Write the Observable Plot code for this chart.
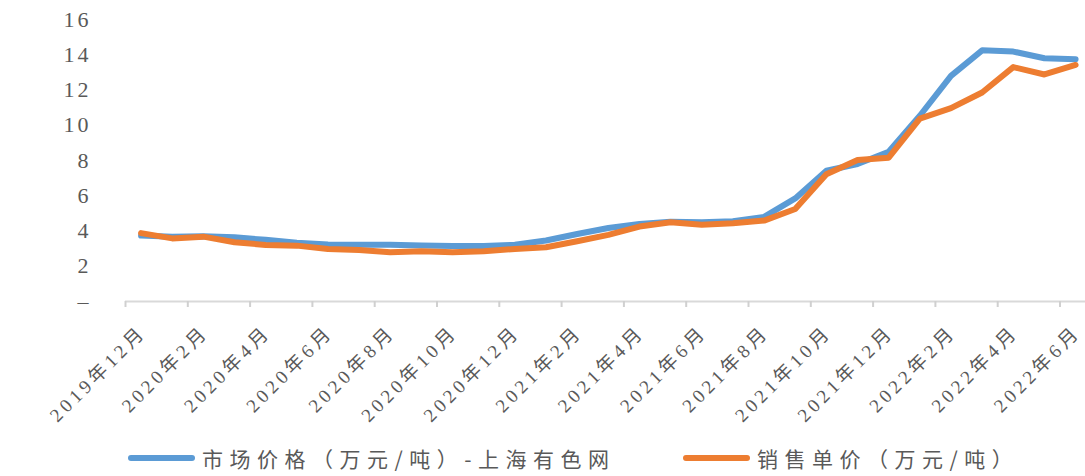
<!DOCTYPE html>
<html>
<head>
<meta charset="utf-8">
<script src="https://cdn.jsdelivr.net/npm/d3@7"></script>
<script src="https://cdn.jsdelivr.net/npm/@observablehq/plot@0.6"></script>
<style>
  html, body { margin: 0; padding: 0; background: #fff; }
  body { width: 1085px; height: 476px; overflow: hidden; }
  #chart svg { display: block; overflow: hidden; }
  #legend { position: relative; height: 36px; }
  #legend .item { position: absolute; top: 0; height: 36px; display: flex; align-items: center;
    font-family: "Noto Sans CJK SC", sans-serif; font-size: 21px; letter-spacing: 6.5px; color: #595959; white-space: nowrap; }
  #legend .sw { display: inline-block; width: 67px; height: 6px; border-radius: 3px; margin-right: 7px; }
</style>
</head>
<body>
<div id="chart"></div>
<div id="legend"></div>
<script>
const months = [
  "2019年12月","2020年1月","2020年2月","2020年3月","2020年4月","2020年5月","2020年6月",
  "2020年7月","2020年8月","2020年9月","2020年10月","2020年11月","2020年12月",
  "2021年1月","2021年2月","2021年3月","2021年4月","2021年5月","2021年6月",
  "2021年7月","2021年8月","2021年9月","2021年10月","2021年11月","2021年12月",
  "2022年1月","2022年2月","2022年3月","2022年4月","2022年5月","2022年6月"
];
const marketPrice = [3.74, 3.68, 3.70, 3.64, 3.50, 3.33, 3.23, 3.22, 3.22, 3.18, 3.15, 3.15, 3.22,
  3.46, 3.83, 4.17, 4.40, 4.53, 4.49, 4.55, 4.80, 5.85, 7.42, 7.80, 8.50,
  10.54, 12.80, 14.25, 14.18, 13.80, 13.75];
const salesPrice = [3.88, 3.58, 3.68, 3.36, 3.21, 3.17, 2.98, 2.92, 2.79, 2.85, 2.79, 2.85, 2.98,
  3.08, 3.42, 3.78, 4.25, 4.50, 4.36, 4.44, 4.59, 5.25, 7.22, 8.03, 8.16,
  10.38, 10.97, 11.86, 13.30, 12.88, 13.42];
const seriesNames = ["市场价格（万元/吨）-上海有色网", "销售单价（万元/吨）"];
const seriesColors = ["#5B9BD5", "#ED7D31"];
const yTicks = [0, 2, 4, 6, 8, 10, 12, 14, 16];
const labelEvery = 2;

const rows = months.map((m, i) => ({i, month: m, market: marketPrice[i], sales: salesPrice[i]}));
const labelIdx = months.map((m, i) => i).filter(i => i % labelEvery === 0);
const boundaryIdx = labelIdx.map(i => i - 0.5);
const serifFont = "'Liberation Serif', 'Noto Sans CJK SC', serif";

const chart = Plot.plot({
  width: 1085,
  height: 440,
  marginLeft: 125,
  marginRight: 0,
  marginTop: 19,
  marginBottom: 139,
  style: {background: "#fff", color: "#595959", fontFamily: serifFont},
  x: {type: "linear", axis: null, domain: [-0.5, months.length - 0.5], range: [125, 125 + months.length * 31.15]},
  y: {axis: null, domain: [0, 16]},
  marks: [
    Plot.ruleY([0], {stroke: "#d9d9d9", strokeWidth: 2}),
    Plot.axisX({ticks: boundaryIdx, tickSize: 6, tickFormat: () => "", label: null, stroke: "#d0d0d0", strokeWidth: 2}),
    Plot.text(labelIdx, {x: d => d, text: d => months[d], frameAnchor: "bottom", rotate: -45,
      textAnchor: "end", lineAnchor: "middle", dx: 2, dy: 27.5, fontSize: 19, fontFamily: serifFont, fill: "#595959"}),
    Plot.axisY({ticks: yTicks, tickSize: 0, tickPadding: 34, label: null, tickFormat: d => d === 0 ? "–" : String(d),
      fontSize: 22, fontFamily: serifFont, fill: "#595959"}),
    Plot.lineY(rows, {x: "i", y: "market", stroke: seriesColors[0], strokeWidth: 6, strokeLinejoin: "round", strokeLinecap: "round"}),
    Plot.lineY(rows, {x: "i", y: "sales", stroke: seriesColors[1], strokeWidth: 6, strokeLinejoin: "round", strokeLinecap: "round"})
  ]
});
// letter spacing for the axis texts
d3.select(chart).selectAll("text").each(function() {
  const t = this.textContent;
  if (t.includes("月")) this.style.letterSpacing = "4px";
  else if (t.length) this.style.letterSpacing = "3px";
});
document.getElementById("chart").appendChild(chart);

const legend = document.getElementById("legend");
const legendLeft = [128, 683];
seriesNames.forEach((name, k) => {
  const item = document.createElement("div");
  item.className = "item";
  item.style.left = legendLeft[k] + "px";
  const sw = document.createElement("span");
  sw.className = "sw";
  sw.style.background = seriesColors[k];
  const tx = document.createElement("span");
  tx.textContent = name;
  item.appendChild(sw);
  item.appendChild(tx);
  legend.appendChild(item);
});
</script>
</body>
</html>
